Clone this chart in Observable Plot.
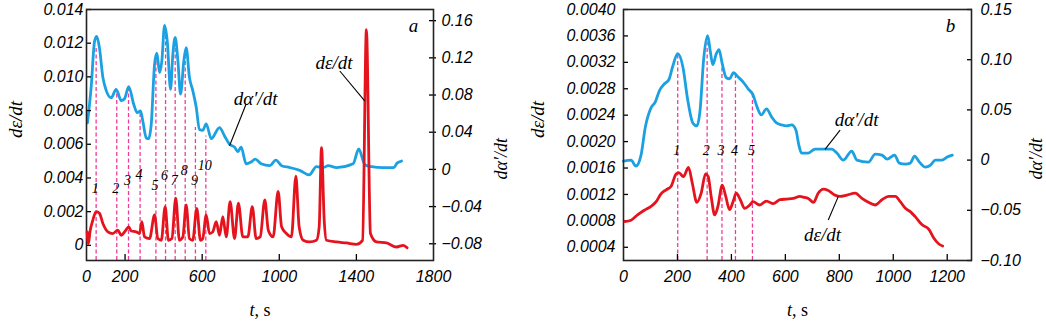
<!DOCTYPE html>
<html><head><meta charset="utf-8">
<script src="https://cdn.jsdelivr.net/npm/d3@7"></script>
<script src="https://cdn.jsdelivr.net/npm/@observablehq/plot@0.6"></script>
<style>
body{margin:0;background:#fff;}
#wrap{position:relative;width:1046px;height:321px;overflow:hidden;}
#wrap svg{position:absolute;top:0;}
</style></head><body><div id="wrap"></div>
<script>
// ---------- Panel a data ----------
// dα'/dt (right axis), [t, value]
const alphaA = [[5,0.050],[24,0.088],[42,0.138],[53,0.143],[67,0.131],[85,0.099],[102,0.085],[128,0.077],[154,0.086],[180,0.074],[197,0.076],[219,0.089],[245,0.070],[263,0.061],[280,0.063],[292,0.052],[310,0.034],[322,0.033],[336,0.049],[353,0.113],[365,0.125],[379,0.104],[391,0.117],[405,0.155],[419,0.138],[436,0.086],[448,0.124],[460,0.142],[474,0.117],[488,0.081],[505,0.117],[517,0.131],[534,0.099],[551,0.085],[569,0.067],[586,0.043],[603,0.042],[621,0.049],[647,0.033],[690,0.045],[716,0.036],[742,0.027],[768,0.024],[785,0.019],[802,0.024],[828,0.006],[854,0.008],[875,0.011],[906,0.006],[951,0.004],[982,0.010],[1012,0.004],[1055,0.002],[1106,-0.001],[1155,-0.006],[1193,0.003],[1228,0.002],[1254,0.004],[1297,0.002],[1383,0.006],[1412,0.022],[1444,0.005],[1478,0.003],[1539,0.002],[1594,0.002],[1612,0.007],[1634,0.009]];
// dε/dt (left axis), [t, value]
const epsA = [[3,0.0008],[10,0.0001],[18,0.0008],[33,0.0015],[50,0.0020],[67,0.0019],[85,0.0013],[111,0.0008],[136,0.0007],[162,0.0009],[180,0.0006],[201,0.00085],[219,0.0011],[232,0.00085],[258,0.0008],[275,0.0007],[287,0.0014],[301,0.0005],[327,0.0004],[353,0.0018],[370,0.0004],[388,0.0003],[408,0.0023],[425,0.0003],[443,0.0004],[463,0.0028],[482,0.0003],[500,0.0005],[517,0.0024],[534,0.0004],[551,0.0003],[572,0.0022],[591,0.0003],[603,0.0004],[621,0.0018],[638,0.0007],[655,0.0008],[673,0.0014],[690,0.0006],[707,0.0017],[725,0.0005],[745,0.0026],[768,0.0004],[788,0.0025],[811,0.0005],[837,0.0005],[860,0.0023],[880,0.0004],[901,0.0005],[925,0.0027],[943,0.0009],[968,0.0005],[994,0.0032],[1012,0.0011],[1037,0.0007],[1063,0.0005],[1086,0.0041],[1103,0.0011],[1124,0.0003],[1158,0.0002],[1193,0.0003],[1207,0.0011],[1219,0.0058],[1233,0.0015],[1245,0.0003],[1297,0.0002],[1349,0.00014],[1400,0.00006],[1432,0.0003],[1452,0.0128],[1473,0.0007],[1504,0.0002],[1556,0.00014],[1608,-0.0001],[1643,0],[1663,-0.00014]];
// numbered dashed markers: t, top (right-axis value), label position (right-axis value)
const markT_A   = [50,157,218,278,360,410,460,512,565,619];
const markTop_A = [0.133,0.081,0.088,0.063,0.119,0.149,0.138,0.128,0.045,0.036];
const markLab_A = [-0.021,-0.021,-0.012,-0.006,-0.0175,-0.0068,-0.012,-0.0014,-0.012,0.004];
const markNum_A = ["1","2","3","4","5","6","7","8","9","10"];

// ---------- Panel b data ----------
const alphaB = [[0,-0.001],[28,0],[46,-0.006],[65,0.005],[81,0.033],[102,0.052],[118,0.058],[133,0.069],[152,0.076],[168,0.080],[182,0.093],[201,0.106],[220,0.093],[238,0.060],[257,0.037],[272,0.034],[284,0.050],[297,0.100],[312,0.124],[322,0.108],[331,0.095],[344,0.106],[354,0.110],[366,0.096],[381,0.082],[393,0.081],[408,0.087],[424,0.083],[443,0.078],[462,0.071],[480,0.065],[495,0.053],[511,0.045],[530,0.051],[549,0.043],[567,0.037],[586,0.035],[605,0.034],[623,0.035],[639,0.030],[650,0.015],[660,0.007],[685,0.007],[710,0.011],[772,0.011],[791,0.007],[815,0],[846,0.009],[865,0],[908,-0.002],[933,0.006],[958,0.005],[977,0.001],[1005,0.005],[1022,-0.003],[1045,-0.004],[1063,-0.003],[1079,0.004],[1097,-0.002],[1119,-0.007],[1138,-0.005],[1156,0],[1181,0],[1200,0.003],[1219,0.005]];
const epsB = [[5,0.00079],[28,0.00081],[52,0.00089],[77,0.00096],[102,0.00102],[121,0.00109],[139,0.00121],[158,0.00127],[176,0.00132],[195,0.00151],[205,0.00153],[222,0.00147],[241,0.00161],[255,0.00137],[272,0.00108],[288,0.00122],[304,0.00151],[314,0.00147],[325,0.00117],[338,0.00089],[350,0.00102],[366,0.00134],[379,0.00117],[393,0.00097],[406,0.00109],[418,0.00122],[433,0.00112],[449,0.00099],[468,0.00104],[480,0.00109],[505,0.00104],[530,0.00110],[555,0.00106],[580,0.00112],[605,0.00113],[629,0.00114],[654,0.00117],[666,0.00116],[685,0.00114],[704,0.00108],[722,0.00122],[741,0.00128],[759,0.00126],[784,0.00119],[803,0.00117],[828,0.00119],[859,0.00122],[884,0.00114],[908,0.00108],[933,0.00104],[958,0.00112],[983,0.00117],[1008,0.00117],[1026,0.00109],[1045,0.00099],[1063,0.00094],[1082,0.00086],[1107,0.00074],[1132,0.00067],[1150,0.00054],[1169,0.00045],[1183,0.00042]];
const markT_B   = [201,310,365,415,478];
const markTop_B = [0.1046,0.1195,0.0963,0.0847,0.0647];
const markLab_B = [0.010,0.010,0.010,0.010,0.010];
const markNum_B = ["1","2","3","4","5"];

// ---------- ticks ----------
const xTicksA = [0,200,600,1000,1400,1800];
const xMarksA = [200,600,1000,1400];
const xTicksB = [0,200,400,600,800,1000,1200];
const xMarksB = [200,400,600,800,1000,1200];
const yTicksAL = [0,0.002,0.004,0.006,0.008,0.010,0.012,0.014];
const yTicksAR = [-0.08,-0.04,0,0.04,0.08,0.12,0.16];
const yTicksBL = [0.0004,0.0008,0.0012,0.0016,0.0020,0.0024,0.0028,0.0032,0.0036,0.0040];
const yTicksBR = [-0.10,-0.05,0,0.05,0.10,0.15];

// ---------- annotations ----------
const annA_alpha = {text:"dα′/dt", x:877, y:0.076, x1:828, y1:0.0703, x2:742, y2:0.0255};
const annA_eps   = {text:"dε/dt", x:1284, y:0.01083, x1:1314, y1:0.01035, x2:1443, y2:0.00858};
const annB_alpha = {text:"dα′/dt", x:864, y:0.0398, x1:803, y1:0.0299, x2:747, y2:0.0107};
const annB_eps   = {text:"dε/dt", x:738, y:0.000586, x1:759, y1:0.000814, x2:796, y2:0.001167};

const BLUE = "#1ba1e2", RED = "#e5131d", PINK = "#ee3d96";
const SERIF = "'Liberation Serif','Times New Roman',serif";
const SANS = "'Liberation Sans',Arial,sans-serif";
const H = 321;

const minus = d => d === 0 ? "0" : (d < 0 ? "\u2212" : "") + Math.abs(d).toFixed(2);

function fixTS(svg){
  svg.querySelectorAll("text").forEach(el => {
    if (el.textContent === "t, s") {
      el.textContent = "";
      const ns = "http://www.w3.org/2000/svg";
      const a = document.createElementNS(ns,"tspan"); a.textContent = "t"; a.setAttribute("font-style","italic");
      const b = document.createElementNS(ns,"tspan"); b.textContent = ", s"; b.setAttribute("font-style","normal");
      el.appendChild(a); el.appendChild(b);
    }
  });
}

function panel(cfg){
  const common = {
    width: cfg.width, height: H,
    marginLeft: cfg.ml, marginRight: cfg.mr, marginTop: 9, marginBottom: 61,
    style: {background:"transparent", fontFamily: SANS, fontSize:"16px", fontStyle:"italic", color:"#000", overflow:"visible"},
    x: {domain: cfg.xDomain}
  };
  const right = Plot.plot({
    ...common,
    x: {domain: cfg.xDomain, axis: null},
    y: {domain: cfg.yRDomain, axis: null},
    marks: [
      Plot.axisY(cfg.yTicksR, {anchor:"right", tickSize:0, tickPadding:cfg.padR, tickFormat: minus, label:null}),
      Plot.axisY(cfg.yTicksR, {anchor:"right", tickSize:cfg.rTick, dx:-5, tickFormat: () => "", label:null, strokeWidth:1.3}),
      Plot.ruleX(cfg.markT.map((t,i)=>({t, top:cfg.markTop[i]})), {x:"t", y1: cfg.yRDomain[0], y2:"top", stroke:PINK, strokeWidth:1.3, strokeDasharray:"4,2.5"}),
      Plot.line(cfg.alpha, {x:d=>d[0], y:d=>d[1], stroke:BLUE, strokeWidth:2.8, curve:"monotone-x"}),
      Plot.text(cfg.markT.map((t,i)=>({t, y:cfg.markLab[i], n:cfg.markNum[i]})), {x:"t", y:"y", text:"n", dx:-1, fontFamily:SERIF, fontSize:14, fontStyle:"italic", fill:"#000"}),
      Plot.text([cfg.annAlpha], {x:"x", y:"y", text:"text", fontFamily:SERIF, fontSize:19, fontStyle:"italic", fill:"#000"}),
      Plot.link([cfg.annAlpha], {x1:"x1", y1:"y1", x2:"x2", y2:"y2", stroke:"#000", strokeWidth:1.1}),
      Plot.text(["dα′/dt"], {frameAnchor:"right", dx: cfg.rLabDx, dy:3, rotate:-90, fontFamily:SERIF, fontSize:18, fontStyle:"italic", fill:"#000"})
    ]
  });
  const left = Plot.plot({
    ...common,
    y: {domain: cfg.yLDomain},
    marks: [
      Plot.axisY(cfg.yTicksL, {anchor:"left", tickSize:0, tickPadding:cfg.padL, tickFormat: cfg.fmtL, label:null}),
      Plot.axisY(cfg.yTicksL, {anchor:"left", tickSize:5, dx:5, tickFormat: () => "", label:null, strokeWidth:1.3}),
      Plot.axisX(cfg.xTicks, {anchor:"bottom", tickSize:0, tickPadding:10, tickFormat: d => String(d), label:null}),
      Plot.axisX(cfg.xMarks, {anchor:"bottom", tickSize:6, dy:-6, tickFormat: () => "", label:null, strokeWidth:1.3}),
      Plot.frame({stroke:"#222", strokeWidth:1.6}),
      Plot.line(cfg.eps, {x:d=>d[0], y:d=>d[1], stroke:RED, strokeWidth:2.8, curve:"monotone-x"}),
      Plot.text([cfg.annEps], {x:"x", y:"y", text:"text", fontFamily:SERIF, fontSize:19, fontStyle:"italic", fill:"#000"}),
      Plot.link([cfg.annEps], {x1:"x1", y1:"y1", x2:"x2", y2:"y2", stroke:"#000", strokeWidth:1.1}),
      Plot.text(["dε/dt"], {frameAnchor:"left", dx: cfg.lLabDx, dy:3, rotate:-90, fontFamily:SERIF, fontSize:19, fontStyle:"italic", fill:"#000"}),
      Plot.text(["t, s"], {frameAnchor:"bottom", dy:50, lineAnchor:"middle", fontFamily:SERIF, fontSize:18, fill:"#000"}),
      Plot.text([cfg.letter], {frameAnchor:"top-right", dx:cfg.letterDx, dy:16, lineAnchor:"middle", textAnchor:"middle", fontFamily:SERIF, fontSize:19, fontStyle:"italic", fill:"#000"})
    ]
  });
  fixTS(left);
  for (const s of [right, left]) { s.style.left = cfg.offset + "px"; document.getElementById("wrap").appendChild(s); }
}

panel({
  offset:0, width:530, ml:86, mr:97,
  xDomain:[0,1800], yLDomain:[-0.0009,0.014], yRDomain:[-0.098,0.172],
  yTicksL:yTicksAL, yTicksR:yTicksAR, xTicks:xTicksA, xMarks:xMarksA,
  fmtL: d => d === 0 ? "0" : d.toFixed(3), padL:3, padR:8, rTick:7,
  alpha:alphaA, eps:epsA, markT:markT_A, markTop:markTop_A, markLab:markLab_A, markNum:markNum_A,
  annAlpha:annA_alpha, annEps:annA_eps, lLabDx:-71, rLabDx:68, letter:"a", letterDx:-20
});
panel({
  offset:530, width:516, ml:93, mr:75,
  xDomain:[0,1290], yLDomain:[0.0002,0.004], yRDomain:[-0.10,0.15],
  yTicksL:yTicksBL, yTicksR:yTicksBR, xTicks:xTicksB, xMarks:xMarksB,
  fmtL: d => d.toFixed(4), padL:8, padR:9, rTick:5,
  alpha:alphaB, eps:epsB, markT:markT_B, markTop:markTop_B, markLab:markLab_B, markNum:markNum_B,
  annAlpha:annB_alpha, annEps:annB_eps, lLabDx:-85.5, rLabDx:65, letter:"b", letterDx:-21
});
</script></body></html>
